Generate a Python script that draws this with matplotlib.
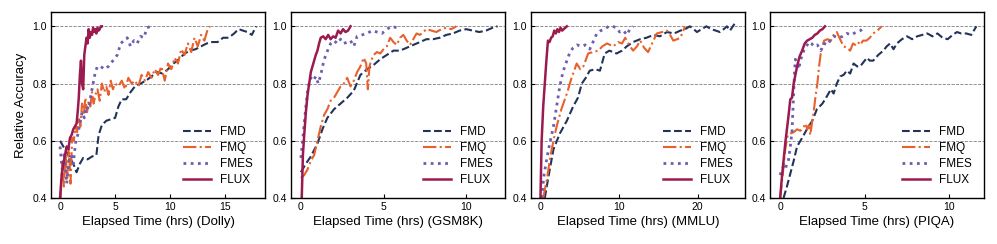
import matplotlib
matplotlib.use('Agg')
import matplotlib.pyplot as plt

plt.rcParams['font.family'] = ['Liberation Sans', 'DejaVu Sans']

### Data (hours, relative accuracy)
methods = ['FMD', 'FMQ', 'FMES', 'FLUX']
datasets = ['Dolly', 'GSM8K', 'MMLU', 'PIQA']

# Dolly
dolly_fmd_t = [0, 0.3, 0.6, 0.9, 1.2, 1.5, 1.8, 2.1, 2.5, 2.9,
               3.3, 3.5, 3.8, 4.2, 4.6, 5.0, 5.3, 5.6, 6.0, 6.4,
               6.8, 7.3, 7.8, 8.3, 8.8, 9.3, 9.8, 10.3, 10.8, 11.3,
               11.8, 12.3, 12.8, 13.3, 13.8, 14.3, 14.8, 15.3, 15.8, 16.2,
               16.6, 17.0, 17.4, 17.8]
dolly_fmd_v = [0.60, 0.58, 0.56, 0.54, 0.52, 0.49, 0.52, 0.54, 0.535, 0.545,
               0.55, 0.62, 0.655, 0.67, 0.675, 0.68, 0.72, 0.745, 0.745, 0.77,
               0.79, 0.80, 0.81, 0.825, 0.84, 0.835, 0.85, 0.87, 0.885, 0.905,
               0.915, 0.92, 0.93, 0.94, 0.945, 0.945, 0.96, 0.96, 0.975, 0.99,
               0.985, 0.98, 0.97, 1.0]
dolly_fmq_t = [0.05, 0.2, 0.35, 0.5, 0.65, 0.8, 0.95, 1.1, 1.25, 1.4,
               1.55, 1.7, 1.85, 2.0, 2.15, 2.3, 2.45, 2.6, 2.75, 2.9,
               3.05, 3.2, 3.4, 3.6, 3.8, 4.0, 4.2, 4.4, 4.6, 4.8,
               5.0, 5.3, 5.6, 5.9, 6.2, 6.5, 6.8, 7.1, 7.4, 7.7,
               8.0, 8.3, 8.6, 8.9, 9.2, 9.5, 9.8, 10.1, 10.4, 10.7,
               11.0, 11.3, 11.6, 11.9, 12.2, 12.5, 12.8, 13.1, 13.4, 13.6]
dolly_fmq_v = [0.40, 0.52, 0.44, 0.55, 0.47, 0.58, 0.45, 0.61, 0.60, 0.65,
               0.63, 0.68, 0.65, 0.73, 0.69, 0.75, 0.70, 0.74, 0.72, 0.77,
               0.73, 0.76, 0.78, 0.74, 0.80, 0.77, 0.79, 0.76, 0.81, 0.78,
               0.80, 0.79, 0.81, 0.78, 0.82, 0.80, 0.81, 0.79, 0.83, 0.81,
               0.84, 0.82, 0.85, 0.83, 0.86, 0.81, 0.87, 0.85, 0.89, 0.87,
               0.92, 0.90, 0.94, 0.91, 0.96, 0.93, 0.97, 0.95, 0.99, 1.0]
dolly_fmes_t = [0.0, 0.2, 0.4, 0.6, 0.8, 1.0, 1.2, 1.4, 1.6, 1.8,
                2.0, 2.2, 2.4, 2.6, 2.8, 3.0, 3.2, 3.4, 3.7, 4.0,
                4.4, 4.8, 5.2, 5.5, 5.8, 6.1, 6.4, 6.7, 7.0, 7.3,
                7.6, 7.9, 8.2]
dolly_fmes_v = [0.58, 0.50, 0.56, 0.45, 0.53, 0.55, 0.52, 0.59, 0.62, 0.66,
                0.70, 0.68, 0.72, 0.71, 0.76, 0.80, 0.84, 0.86, 0.86, 0.85,
                0.86, 0.88, 0.90, 0.94, 0.95, 0.96, 0.93, 0.95, 0.94, 0.965,
                0.96, 0.995, 1.0]
dolly_flux_t = [0.0, 0.15, 0.3, 0.45, 0.6, 0.75, 0.9, 1.05, 1.2, 1.35,
                1.5, 1.6, 1.7, 1.8, 1.9, 2.0, 2.1, 2.2, 2.3, 2.4,
                2.5, 2.6, 2.7, 2.8, 2.9, 3.0, 3.1, 3.2, 3.3, 3.4,
                3.5, 3.6, 3.7, 3.8]
dolly_flux_v = [0.40, 0.48, 0.52, 0.55, 0.58, 0.57, 0.61, 0.62, 0.64, 0.65,
                0.66, 0.70, 0.75, 0.83, 0.88, 0.80, 0.78, 0.90, 0.93, 0.96,
                0.94, 0.99, 0.96, 0.98, 0.97, 0.995, 0.98, 0.99, 0.975, 0.995,
                0.985, 0.99, 1.0, 1.0]

# GSM8K
gsm_fmd_t = [0, 0.3, 0.6, 1.0, 1.3, 1.6, 2.0, 2.4, 2.8, 3.2,
             3.6, 4.0, 4.4, 4.8, 5.2, 5.6, 6.0, 6.4, 6.8, 7.2,
             7.6, 8.0, 8.4, 8.8, 9.2, 9.6, 10.0, 10.4, 10.8, 11.2,
             11.6, 11.9]
gsm_fmd_v = [0.49, 0.52, 0.545, 0.59, 0.64, 0.68, 0.71, 0.73, 0.75, 0.775,
             0.83, 0.85, 0.865, 0.885, 0.90, 0.915, 0.915, 0.925, 0.935, 0.945,
             0.955, 0.955, 0.96, 0.97, 0.975, 0.985, 0.99, 0.985, 0.98, 0.985,
             0.995, 1.0]
gsm_fmq_t = [0, 0.2, 0.4, 0.6, 0.8, 1.0, 1.2, 1.4, 1.6, 1.8,
             2.0, 2.2, 2.4, 2.6, 2.8, 3.0, 3.2, 3.4, 3.6, 3.8,
             3.95, 4.05, 4.15, 4.25, 4.4, 4.6, 4.8, 5.0, 5.2, 5.4,
             5.6, 5.8, 6.0, 6.2, 6.4, 6.6, 6.8, 7.0, 7.2, 7.4,
             7.6, 7.9, 8.2, 8.5, 8.8, 9.1, 9.4]
gsm_fmq_v = [0.47, 0.48, 0.50, 0.53, 0.55, 0.60, 0.65, 0.69, 0.71, 0.74,
             0.75, 0.77, 0.79, 0.80, 0.82, 0.79, 0.81, 0.84, 0.86, 0.89,
             0.87, 0.78, 0.86, 0.88, 0.90, 0.91, 0.905, 0.92, 0.93, 0.96,
             0.945, 0.935, 0.96, 0.97, 0.95, 0.935, 0.955, 0.975, 0.97, 0.98,
             0.99, 0.985, 0.98, 0.99, 0.995, 0.99, 1.0]
gsm_fmes_t = [0, 0.1, 0.2, 0.3, 0.4, 0.5, 0.6, 0.75, 0.9, 1.05,
              1.2, 1.35, 1.5, 1.65, 1.8, 2.0, 2.2, 2.4, 2.6, 2.8,
              3.0, 3.2, 3.4, 3.7, 4.0, 4.3, 4.6, 4.9, 5.2, 5.5,
              5.8, 6.0]
gsm_fmes_v = [0.54, 0.60, 0.66, 0.72, 0.77, 0.80, 0.82, 0.81, 0.825, 0.80,
              0.83, 0.87, 0.90, 0.92, 0.94, 0.95, 0.94, 0.955, 0.94, 0.945,
              0.95, 0.93, 0.965, 0.97, 0.975, 0.985, 0.98, 0.975, 0.99, 1.0,
              0.995, 1.0]
gsm_flux_t = [0.05, 0.12, 0.2, 0.3, 0.4, 0.5, 0.6, 0.7, 0.8, 0.9,
              1.0, 1.1, 1.2, 1.35, 1.5, 1.65, 1.8, 1.95, 2.1, 2.25,
              2.4, 2.55, 2.7, 2.85, 3.0]
gsm_flux_v = [0.40, 0.55, 0.62, 0.70, 0.76, 0.80, 0.84, 0.86, 0.88, 0.90,
              0.915, 0.94, 0.96, 0.965, 0.955, 0.97, 0.955, 0.965, 0.96, 0.985,
              0.975, 0.99, 0.98, 0.985, 1.0]

# MMLU
mmlu_fmd_t = [0.6, 1.1, 1.7, 2.5, 3.4, 4.2, 4.8, 5.3, 5.8, 6.3,
              7.0, 7.6, 8.2, 8.8, 9.7, 10.4, 11.0, 11.8, 12.7, 13.5,
              14.4, 15.2, 16.1, 17.0, 17.8, 18.4, 19.0, 19.5, 19.9, 20.5,
              21.1, 21.7, 22.3, 22.8, 23.3, 23.7, 24.1, 24.7]
mmlu_fmd_v = [0.40, 0.48, 0.57, 0.625, 0.67, 0.72, 0.75, 0.80, 0.82, 0.845,
              0.85, 0.845, 0.905, 0.915, 0.905, 0.915, 0.93, 0.945, 0.955, 0.96,
              0.97, 0.965, 0.98, 0.975, 0.985, 0.99, 1.0, 0.99, 0.98, 0.99,
              1.0, 0.99, 0.985, 0.98, 0.99, 1.0, 0.985, 1.01]
mmlu_fmq_t = [0.4, 0.9, 1.3, 1.7, 2.1, 2.7, 3.4, 4.0, 4.65, 5.1,
              5.5, 6.1, 6.7, 7.4, 7.9, 8.5, 9.3, 9.9, 10.4, 10.8,
              11.3, 11.8, 12.3, 12.7, 13.2, 13.7, 14.3, 14.8, 15.5, 16.1,
              16.5, 16.9, 17.4, 17.8, 18.1, 18.4]
mmlu_fmq_v = [0.40, 0.47, 0.545, 0.60, 0.65, 0.71, 0.765, 0.82, 0.87, 0.85,
              0.86, 0.905, 0.91, 0.915, 0.93, 0.94, 0.93, 0.945, 0.94, 0.96,
              0.935, 0.915, 0.93, 0.95, 0.925, 0.91, 0.945, 0.975, 0.98, 0.985,
              0.97, 0.95, 0.955, 0.96, 0.98, 1.0]
mmlu_fmes_t = [0.2, 0.5, 0.9, 1.3, 1.7, 2.1, 2.5, 2.9, 3.4, 3.8,
               4.2, 4.7, 5.2, 5.7, 6.3, 6.8, 7.2, 7.7, 8.2, 8.7,
               9.2, 9.7, 10.1, 10.6, 11.0, 11.4, 11.8]
mmlu_fmes_v = [0.40, 0.48, 0.545, 0.60, 0.65, 0.72, 0.79, 0.84, 0.88, 0.91,
               0.925, 0.935, 0.93, 0.935, 0.92, 0.95, 0.975, 0.985, 0.99, 1.0,
               1.0, 0.995, 0.98, 0.985, 0.97, 0.99, 1.0]
mmlu_flux_t = [0.05, 0.2, 0.4, 0.6, 0.8, 1.0, 1.2, 1.4, 1.6, 1.8,
               2.0, 2.2, 2.4, 2.6, 2.8, 3.0, 3.2, 3.4]
mmlu_flux_v = [0.40, 0.60, 0.72, 0.80, 0.88, 0.95, 0.945, 0.96, 0.965, 0.985,
               0.975, 0.99, 0.98, 0.995, 0.985, 0.99, 0.995, 1.0]

# PIQA
piqa_fmd_t = [0.2, 0.4, 0.6, 0.8, 1.0, 1.3, 1.58, 1.9, 2.17, 2.5,
              2.76, 3.0, 3.16, 3.35, 3.55, 3.75, 3.94, 4.14, 4.34, 4.55,
              4.73, 4.93, 5.13, 5.3, 5.5, 5.8, 6.1, 6.3, 6.5, 6.7,
              6.9, 7.2, 7.5, 7.8, 8.1, 8.4, 8.7, 9.0, 9.3, 9.6,
              9.9, 10.2, 10.45, 10.7, 11.0, 11.3, 11.6]
piqa_fmd_v = [0.40, 0.44, 0.485, 0.53, 0.58, 0.61, 0.64, 0.67, 0.71, 0.73,
              0.755, 0.78, 0.765, 0.80, 0.825, 0.83, 0.845, 0.835, 0.87, 0.86,
              0.86, 0.875, 0.89, 0.88, 0.88, 0.9, 0.915, 0.93, 0.94, 0.92,
              0.94, 0.955, 0.965, 0.955, 0.965, 0.97, 0.975, 0.965, 0.975, 0.96,
              0.955, 0.97, 0.98, 0.975, 0.975, 0.97, 1.0]
piqa_fmq_t = [0, 0.15, 0.3, 0.45, 0.6, 0.8, 1.0, 1.2, 1.4, 1.5,
              1.6, 1.7, 1.78, 1.9, 2.0, 2.1, 2.2, 2.3, 2.4, 2.5,
              2.6, 2.8, 3.0, 3.2, 3.35, 3.5, 3.75, 3.95, 4.14, 4.3,
              4.44, 4.6, 4.73, 4.9, 5.1, 5.3, 5.5, 5.75, 6.0]
piqa_fmq_v = [0.40, 0.48, 0.57, 0.62, 0.625, 0.63, 0.64, 0.635, 0.65, 0.66,
              0.64, 0.655, 0.62, 0.67, 0.71, 0.76, 0.80, 0.86, 0.905, 0.93,
              0.95, 0.955, 0.95, 0.975, 0.98, 0.96, 0.93, 0.925, 0.915, 0.94,
              0.935, 0.945, 0.935, 0.95, 0.95, 0.96, 0.975, 0.985, 1.0]
piqa_fmes_t = [0, 0.1, 0.2, 0.3, 0.4, 0.5, 0.6, 0.7, 0.75, 0.8,
               0.85, 0.9, 1.0, 1.1, 1.2, 1.3, 1.4, 1.55, 1.7, 1.85,
               2.0, 2.2, 2.4, 2.6, 2.8, 3.0, 3.2, 3.45, 3.7, 3.95,
               4.2, 4.5, 4.75, 5.0]
piqa_fmes_v = [0.48, 0.50, 0.51, 0.50, 0.52, 0.535, 0.58, 0.63, 0.70, 0.77,
               0.84, 0.885, 0.87, 0.85, 0.88, 0.90, 0.915, 0.93, 0.945, 0.94,
               0.93, 0.935, 0.915, 0.94, 0.935, 0.955, 0.965, 0.96, 0.965, 0.975,
               0.97, 0.98, 0.985, 1.0]
piqa_flux_t = [0, 0.1, 0.2, 0.3, 0.4, 0.5, 0.6, 0.7, 0.8, 0.9,
               1.0, 1.15, 1.3, 1.45, 1.6, 1.75, 1.9, 2.05, 2.2, 2.35,
               2.5, 2.65]
piqa_flux_v = [0.40, 0.47, 0.53, 0.59, 0.64, 0.69, 0.745, 0.75, 0.80, 0.83,
               0.86, 0.895, 0.915, 0.94, 0.95, 0.955, 0.96, 0.97, 0.975, 0.985,
               0.99, 1.0]

all_series = [
    [(dolly_fmd_t, dolly_fmd_v), (dolly_fmq_t, dolly_fmq_v),
     (dolly_fmes_t, dolly_fmes_v), (dolly_flux_t, dolly_flux_v)],
    [(gsm_fmd_t, gsm_fmd_v), (gsm_fmq_t, gsm_fmq_v),
     (gsm_fmes_t, gsm_fmes_v), (gsm_flux_t, gsm_flux_v)],
    [(mmlu_fmd_t, mmlu_fmd_v), (mmlu_fmq_t, mmlu_fmq_v),
     (mmlu_fmes_t, mmlu_fmes_v), (mmlu_flux_t, mmlu_flux_v)],
    [(piqa_fmd_t, piqa_fmd_v), (piqa_fmq_t, piqa_fmq_v),
     (piqa_fmes_t, piqa_fmes_v), (piqa_flux_t, piqa_flux_v)],
]

# styles
colors = ['#22335a', '#e8602c', '#6b5db0', '#9b1b4f']
styles = ['--', '-.', (0, (1, 1.6)), '-']
widths = [1.5, 1.5, 2.0, 1.8]

xlims = [(-0.82, 18.6), (-0.6, 12.35), (-1.15, 26.0), (-0.6, 12.05)]
xticks = [[0, 5, 10, 15], [0, 5, 10], [0, 10, 20], [0, 5, 10]]
lefts = [51, 291, 531, 770]

fig = plt.figure(figsize=(9.97, 2.44), dpi=100)

for i, name in enumerate(datasets):
    ax = fig.add_axes([lefts[i] / 997, 1 - 198 / 244, 214 / 997, 186 / 244])
    for j, m in enumerate(methods):
        t, v = all_series[i][j]
        ax.plot(t, v, color=colors[j], linestyle=styles[j],
                linewidth=widths[j], label=m)
    ax.set_xlim(*xlims[i])
    ax.set_ylim(0.4, 1.05)
    ax.set_xticks(xticks[i])
    ax.set_yticks([0.4, 0.6, 0.8, 1.0])
    ax.set_yticklabels(['0.4', '0.6', '0.8', '1.0'])
    ax.yaxis.grid(True, linestyle='--', color='gray', linewidth=0.6)
    ax.set_axisbelow(True)
    ax.tick_params(direction='in', length=3, width=0.8, labelsize=7.5, pad=3)
    for s in ax.spines.values():
        s.set_linewidth(1.0)
    ax.set_xlabel(f'Elapsed Time (hrs) ({name})', fontsize=9.5, labelpad=3)
    if i == 0:
        ax.set_ylabel('Relative Accuracy', fontsize=9.5, labelpad=4)
    ax.legend(loc='lower right', frameon=False, fontsize=8.5,
              handlelength=2.4, labelspacing=0.35, borderaxespad=0.6)

plt.savefig('out.png', dpi=100)
